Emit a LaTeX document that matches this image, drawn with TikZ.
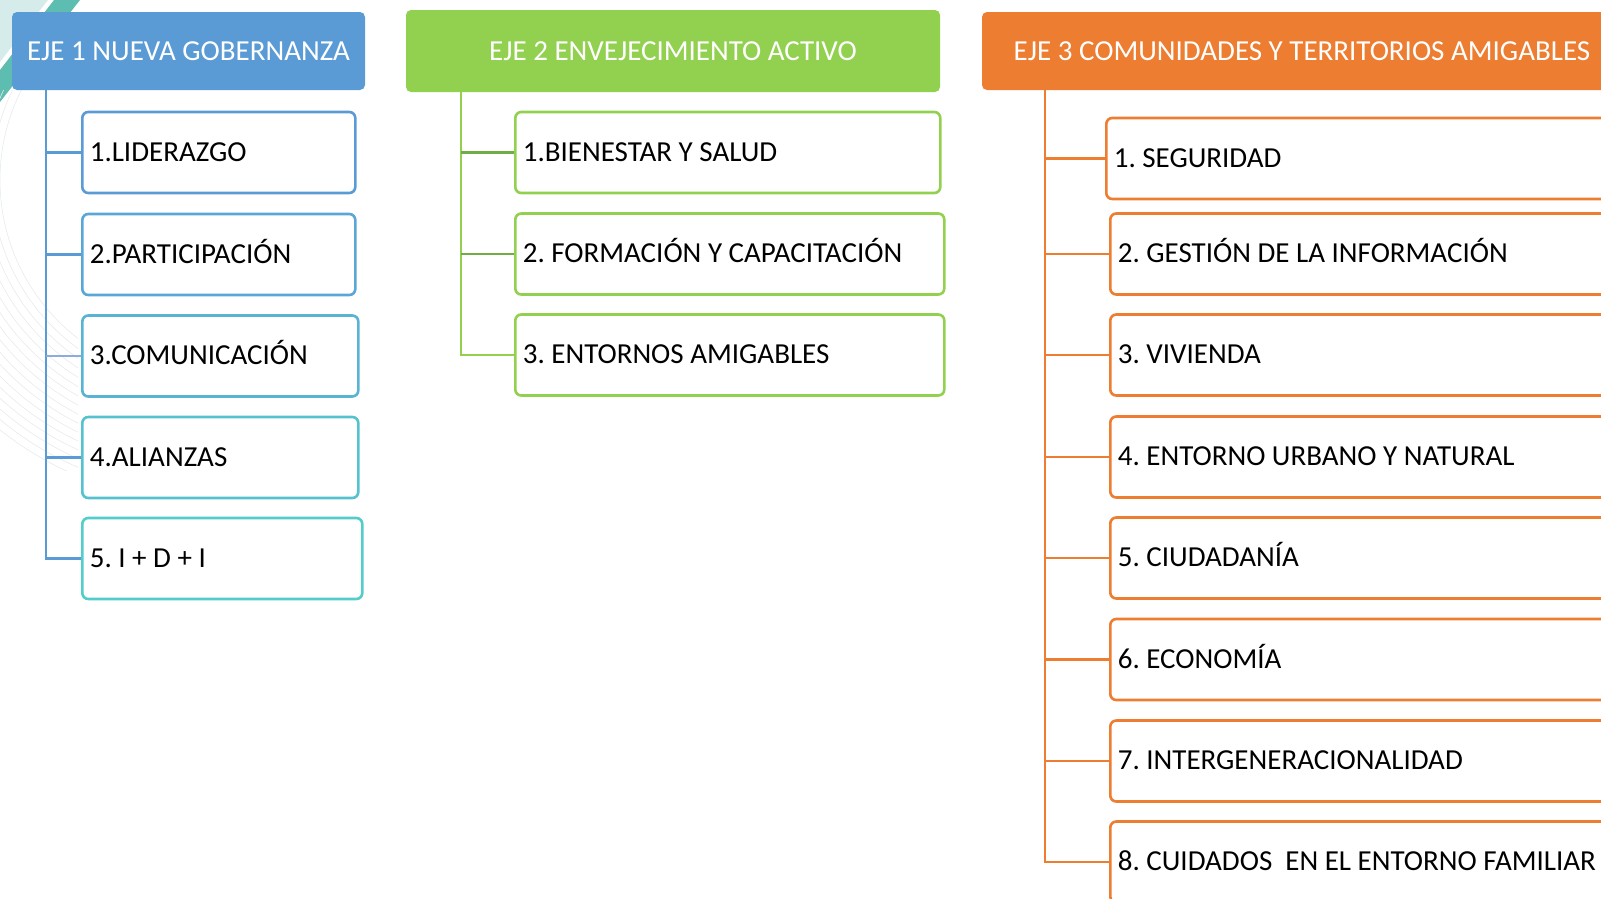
\documentclass[tikz,border=0pt]{standalone}
\usepackage{fontspec}
\setmainfont{Carlito}
\frenchspacing
\definecolor{hdrA}{HTML}{5B9BD5}
\definecolor{hdrB}{HTML}{92D050}
\definecolor{hdrC}{HTML}{ED7D31}
\definecolor{bA1}{HTML}{5B9BD5}
\definecolor{bA2}{HTML}{5AA6D6}
\definecolor{bA3}{HTML}{59B4D4}
\definecolor{bA4}{HTML}{55C2CF}
\definecolor{bA5}{HTML}{53CDCB}
\definecolor{lnA}{HTML}{5B9BD5}
\definecolor{lnAl}{HTML}{8FAADC}
\definecolor{lnB}{HTML}{70AD47}
\definecolor{lnBl}{HTML}{92D050}
\definecolor{tealA}{HTML}{5CBDB0}
\definecolor{tealL}{HTML}{D6ECEA}
\definecolor{arcc}{HTML}{E4ECEC}
\newcommand{\hfnt}{\fontsize{29}{34}\selectfont}
\newcommand{\bfnt}{\fontsize{29}{34}\selectfont}
\newcommand{\lbox}[2]{\makebox[#1][l]{#2}}
\tikzset{
  hdr/.style={rounded corners=5pt, fill=#1, text=white, font=\hfnt, inner sep=0pt, anchor=center,
    text height=24pt, text depth=6pt},
  subbox/.style={draw=#1, line width=2.6pt, rounded corners=6pt, fill=white, font=\bfnt, text=black,
    inner xsep=7.5pt, inner ysep=0pt, minimum height=81pt, anchor=west,
    text height=23pt, text depth=6pt},
  trunk/.style={draw=#1, line width=2.6pt},
}
\begin{document}
\begin{tikzpicture}[x=1pt,y=-1pt]
\useasboundingbox (0,0) rectangle (1601,898);
\clip (0,0) rectangle (1601,898);
% background decoration
\fill[tealL] (0,0) -- (48,0) -- (0,62) -- cycle;
\fill[tealA] (54,0) -- (80,0) -- (0,102) -- (0,70) -- cycle;
\begin{scope}
\clip (0,90) rectangle (78,470);
\foreach \r in {200,208,...,320} {
  \draw[arcc, line width=0.6pt] (200,180) circle[radius=\r];
}
\end{scope}
% headers
\node[hdr=hdrA, minimum width=353pt, minimum height=78pt] (h1) at (188.5,51) {EJE 1 NUEVA GOBERNANZA};
\node[hdr=hdrB, minimum width=534pt, minimum height=82pt] (h2) at (673,51) {EJE 2 ENVEJECIMIENTO ACTIVO};
\node[hdr=hdrC, minimum width=640pt, minimum height=78pt] (h3) at (1302,51) {EJE 3 COMUNIDADES Y TERRITORIOS AMIGABLES};
% column 1
\node[subbox=bA1] (a1) at (81,152.5) {\lbox{258pt}{1.LIDERAZGO}};
\node[subbox=bA2] (a2) at (81,254.5) {\lbox{258pt}{2.PARTICIPACIÓN}};
\node[subbox=bA3] (a3) at (81,356) {\lbox{261pt}{3.COMUNICACIÓN}};
\node[subbox=bA4] (a4) at (81,457.5) {\lbox{261pt}{4.ALIANZAS}};
\node[subbox=bA5] (a5) at (81,558.5) {\lbox{265pt}{5. I + D + I}};
\coordinate (ta0) at (46,90);
\coordinate (ta5) at (46,558.5);
\draw[trunk=lnA] (ta0) -- (ta5) -- (a5.west);
\draw[trunk=lnA] (46,152.5) -- (a1.west);
\draw[trunk=lnA] (46,254.5) -- (a2.west);
\draw[trunk=lnAl] (46,356) -- (a3.west);
\draw[trunk=lnA] (46,457.5) -- (a4.west);
% column 2
\node[subbox=hdrB] (b1) at (514,152.5) {\lbox{410pt}{1.BIENESTAR Y SALUD}};
\node[subbox=hdrB] (b2) at (514,254) {\lbox{414pt}{2. FORMACIÓN Y CAPACITACIÓN}};
\node[subbox=hdrB] (b3) at (514,355) {\lbox{414pt}{3. ENTORNOS AMIGABLES}};
\coordinate (tb0) at (461,92);
\coordinate (tb3) at (461,355);
\draw[trunk=lnBl] (tb0) -- (tb3) -- (b3.west);
\draw[trunk=lnB] (461,152.5) -- (b1.west);
\draw[trunk=lnB] (461,254) -- (b2.west);
% column 3
\node[subbox=hdrC] (c1) at (1105,158.5) {\lbox{600pt}{1. SEGURIDAD}};
\node[subbox=hdrC] (c2) at (1109,254) {\lbox{600pt}{2. GESTIÓN DE LA INFORMACIÓN}};
\node[subbox=hdrC] (c3) at (1109,355) {\lbox{600pt}{3. VIVIENDA}};
\node[subbox=hdrC] (c4) at (1109,457) {\lbox{600pt}{4. ENTORNO URBANO Y NATURAL}};
\node[subbox=hdrC] (c5) at (1109,558) {\lbox{600pt}{5. CIUDADANÍA}};
\node[subbox=hdrC] (c6) at (1109,659.5) {\lbox{600pt}{6. ECONOMÍA}};
\node[subbox=hdrC] (c7) at (1109,761) {\lbox{600pt}{7. INTERGENERACIONALIDAD}};
\node[subbox=hdrC] (c8) at (1109,862) {\lbox{600pt}{8. CUIDADOS\ \ EN EL ENTORNO FAMILIAR}};
\coordinate (tc0) at (1045,90);
\coordinate (tc8) at (1045,862);
\draw[trunk=hdrC] (tc0) -- (tc8) -- (c8.west);
\foreach \n/\y in {c1/158.5,c2/254,c3/355,c4/457,c5/558,c6/659.5,c7/761} {
  \draw[trunk=hdrC] (1045,\y) -- (\n.west);
}
\end{tikzpicture}
\end{document}
